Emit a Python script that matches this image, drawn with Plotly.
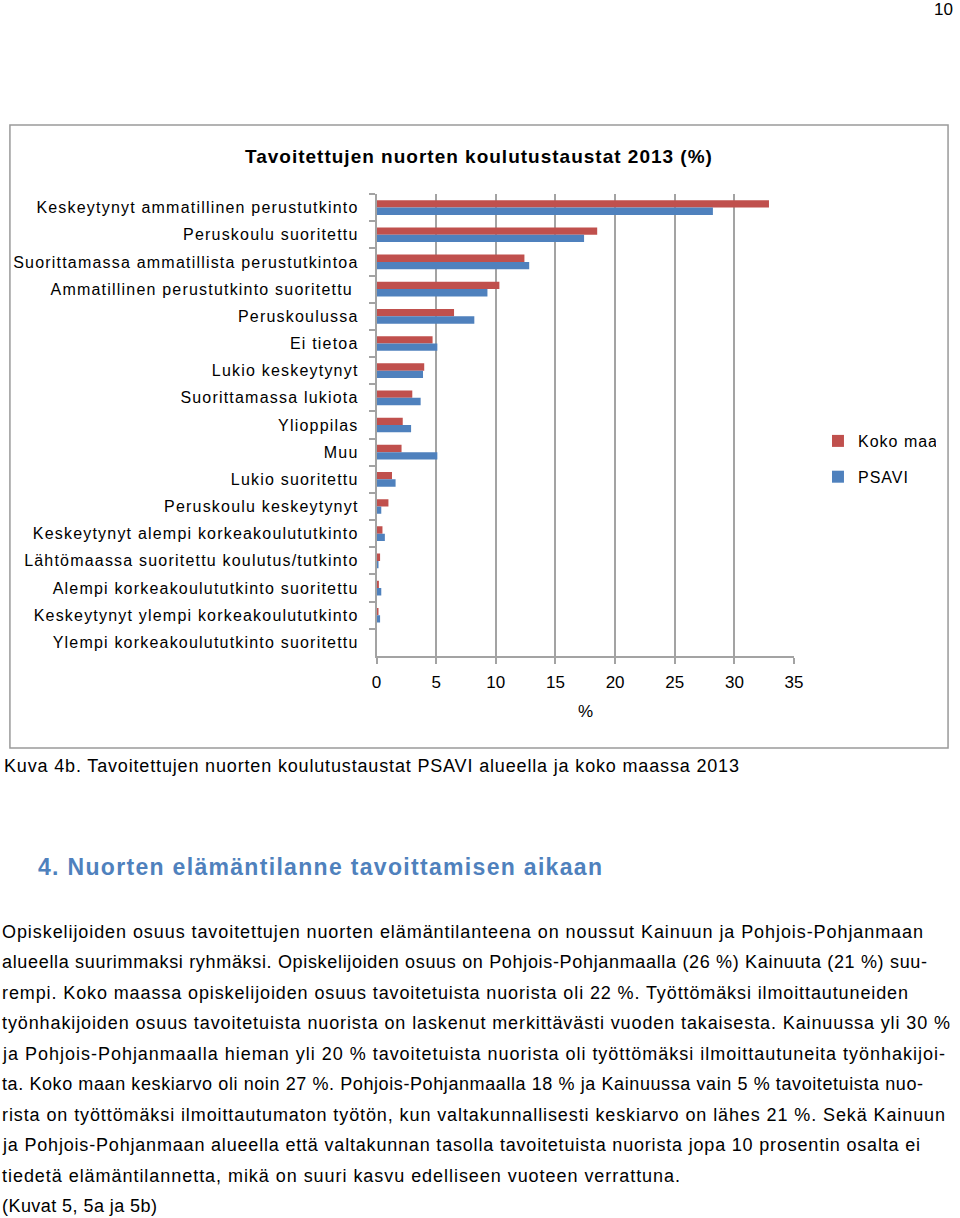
import json
import plotly.graph_objects as go

W, H = 960, 1218

categories = [
    "Keskeytynyt ammatillinen perustutkinto",
    "Peruskoulu suoritettu",
    "Suorittamassa ammatillista perustutkintoa",
    "Ammatillinen perustutkinto suoritettu ",
    "Peruskoulussa",
    "Ei tietoa",
    "Lukio keskeytynyt",
    "Suorittamassa lukiota",
    "Ylioppilas",
    "Muu",
    "Lukio suoritettu",
    "Peruskoulu keskeytynyt",
    "Keskeytynyt alempi korkeakoulututkinto",
    "Lähtömaassa suoritettu koulutus/tutkinto",
    "Alempi korkeakoulututkinto suoritettu",
    "Keskeytynyt ylempi korkeakoulututkinto",
    "Ylempi korkeakoulututkinto suoritettu",
]
koko_maa = [32.9, 18.5, 12.4, 10.3, 6.5, 4.7, 4.0, 3.0, 2.2, 2.1, 1.3, 1.0, 0.5, 0.3, 0.2, 0.1, 0.0]
psavi = [28.2, 17.4, 12.8, 9.3, 8.2, 5.1, 3.9, 3.7, 2.9, 5.1, 1.6, 0.4, 0.7, 0.1, 0.4, 0.3, 0.0]
x_ticks = [0, 5, 10, 15, 20, 25, 30, 35]

title_text = "Tavoitettujen nuorten koulutustaustat 2013 (%)"
caption_text = "Kuva 4b. Tavoitettujen nuorten koulutustaustat PSAVI alueella ja koko maassa 2013"
heading_text = "4. Nuorten elämäntilanne tavoittamisen aikaan"
body_lines = [
    "Opiskelijoiden osuus tavoitettujen nuorten elämäntilanteena on noussut Kainuun ja Pohjois-Pohjanmaan",
    "alueella suurimmaksi ryhmäksi. Opiskelijoiden osuus on Pohjois-Pohjanmaalla (26 %) Kainuuta (21 %) suu-",
    "rempi. Koko maassa opiskelijoiden osuus tavoitetuista nuorista oli 22 %. Työttömäksi ilmoittautuneiden",
    "työnhakijoiden osuus tavoitetuista nuorista on laskenut merkittävästi vuoden takaisesta. Kainuussa yli 30 %",
    "ja Pohjois-Pohjanmaalla hieman yli 20 % tavoitetuista nuorista oli työttömäksi ilmoittautuneita työnhakijoi-",
    "ta. Koko maan keskiarvo oli noin 27 %. Pohjois-Pohjanmaalla 18 % ja Kainuussa vain 5 % tavoitetuista nuo-",
    "rista on työttömäksi ilmoittautumaton työtön, kun valtakunnallisesti keskiarvo on lähes 21 %. Sekä Kainuun",
    "ja Pohjois-Pohjanmaan alueella että valtakunnan tasolla tavoitetuista nuorista jopa 10 prosentin osalta ei",
    "tiedetä elämäntilannetta, mikä on suuri kasvu edelliseen vuoteen verrattuna.",
    "(Kuvat 5, 5a ja 5b)",
]

# text-block layout (page pixels): left edge and right end of each printed line
body_left = 2
body_right_ends = [923, 927, 908, 950, 945, 923, 945, 920, 680, 157]
caption_span = [4, 739]
heading_span = [38, 602]

FONT = "Liberation Sans, Arial, sans-serif"
RED = "#C0504D"
BLUE = "#4F81BD"
GRID = "#A3A3A3"


def px(x):
    return x / W


def py(y):
    return 1 - y / H


fig = go.Figure()
fig.add_trace(go.Bar(
    y=categories, x=koko_maa, orientation="h", name="Koko maa",
    marker=dict(color=RED, line=dict(width=0)), legendgroup="a",
))
fig.add_trace(go.Bar(
    y=categories, x=psavi, orientation="h", name="PSAVI",
    marker=dict(color=BLUE, line=dict(width=0)), legendgroup="b",
))

fig.update_layout(
    width=W, height=H,
    margin=dict(l=0, r=0, t=0, b=0),
    paper_bgcolor="white", plot_bgcolor="white",
    font=dict(family=FONT, color="#000000", size=16),
    barmode="group", bargap=0.46, bargroupgap=0,
    showlegend=True,
    legend=dict(
        x=px(825), y=py(424), xanchor="left", yanchor="top",
        font=dict(size=16, family=FONT, color="#000"),
        tracegroupgap=12, bgcolor="rgba(0,0,0,0)",
        traceorder="grouped",
    ),
    xaxis=dict(
        domain=[px(377), px(800.7)],
        range=[0, 35], tickvals=x_ticks, ticktext=[str(v) for v in x_ticks],
        showgrid=True, gridcolor=GRID, gridwidth=1.5,
        showline=True, linecolor=GRID, linewidth=1.5,
        ticks="outside", ticklen=6, tickcolor=GRID, tickwidth=1.5,
        tickfont=dict(size=17, family=FONT, color="#000"),
        ticklabelstandoff=4,
        zeroline=False, fixedrange=True,
    ),
    yaxis=dict(
        domain=[py(656), py(194)],
        autorange="reversed", type="category",
        showline=True, linecolor=GRID, linewidth=1.5,
        ticks="outside", ticklen=6, tickcolor=GRID, tickwidth=1.5,
        tickson="boundaries",
        tickfont=dict(size=16, family=FONT, color="#000"),
        ticklabelstandoff=13,
        showgrid=False, zeroline=False, fixedrange=True,
    ),
)

# chart frame
fig.add_shape(type="rect", xref="paper", yref="paper",
              x0=px(5), x1=px(957), y0=py(748), y1=py(125),
              line=dict(color="#9A9A9A", width=1.5), fillcolor="rgba(0,0,0,0)", layer="below")

annotations = [
    dict(text="10", x=px(964), y=py(9), xanchor="right", yanchor="middle", align="right",
         font=dict(size=17)),
    dict(text="<b>" + title_text + "</b>", x=px(481), y=py(156), xanchor="center", yanchor="middle",
         align="center", font=dict(size=19)),
    dict(text="%", x=px(589), y=py(712), xanchor="center", yanchor="middle", align="center",
         font=dict(size=17)),
    dict(text=caption_text, x=px(caption_span[0]), y=py(766), xanchor="left", yanchor="middle",
         align="left", font=dict(size=18)),
    dict(text="<b>" + heading_text + "</b>", x=px(heading_span[0]), y=py(867), xanchor="left",
         yanchor="middle", align="left", font=dict(size=23, color=BLUE)),
]
line_y0, line_dy = 932, 30.45
for i, line in enumerate(body_lines):
    annotations.append(dict(text=line, x=px(body_left), y=py(line_y0 + i * line_dy),
                            xanchor="left", yanchor="middle", align="left", font=dict(size=18)))
for a in annotations:
    a.update(xref="paper", yref="paper", showarrow=False)
    a["font"].setdefault("family", FONT)
    a["font"].setdefault("color", "#000")
fig.update_layout(annotations=annotations)

spans = [None, None, None, caption_span, heading_span] + [[body_left, r] for r in body_right_ends]

# page styling: no body margin, and the spaced / justified lettering of the printed page
post = """
document.body.style.margin = '0';
document.body.style.overflow = 'hidden';
document.documentElement.style.overflow = 'hidden';
var SPANS = %s;
function sp(sel, v){ document.querySelectorAll(sel).forEach(function(t){ t.setAttribute('letter-spacing', v); }); }
sp('.ytick text', '1.2px');
sp('.legendtext', '1px');
var svgRect = document.querySelector('.main-svg').getBoundingClientRect();
var anns = document.querySelectorAll('.annotation-text');
anns.forEach(function(t, i){
  if (i === 1) { t.setAttribute('letter-spacing', '1px'); return; }
  var s = SPANS[i];
  if (!s) return;
  var r0 = t.getBoundingClientRect();
  var n = t.textContent.length;
  var ls = ((s[1] - s[0]) - r0.width) / Math.max(n - 1, 1);
  t.setAttribute('letter-spacing', ls + 'px');
  var r1 = t.getBoundingClientRect();
  var dx = (s[0] + svgRect.left) - r1.left;
  var tr = t.getAttribute('transform') || '';
  t.setAttribute('transform', 'translate(' + dx + ',0) ' + tr);
});
""" % json.dumps(spans)

fig.write_html("out.html", post_script=post, config={"displayModeBar": False})
